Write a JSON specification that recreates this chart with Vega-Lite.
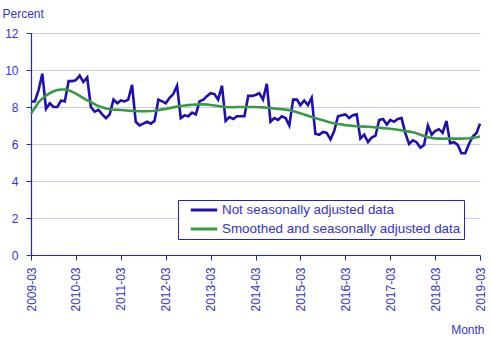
{
  "$schema": "https://vega.github.io/schema/vega-lite/v6.json",
  "width": 449,
  "height": 222,
  "autosize": {"type": "none"},
  "padding": {"left": 31, "top": 33, "right": 11, "bottom": 85},
  "background": "white",
  "config": {
    "view": {"stroke": null},
    "font": "Liberation Sans"
  },
  "data": {"values": [
    {"m":"2009-03","a":8.3,"b":7.65},{"m":"2009-04","a":8.3,"b":7.95},{"m":"2009-05","a":8.9,"b":8.25},{"m":"2009-06","a":9.8,"b":8.45},
    {"m":"2009-07","a":7.9,"b":8.62},{"m":"2009-08","a":8.2,"b":8.75},{"m":"2009-09","a":8.0,"b":8.85},{"m":"2009-10","a":8.0,"b":8.92},
    {"m":"2009-11","a":8.35,"b":8.95},{"m":"2009-12","a":8.3,"b":8.95},{"m":"2010-01","a":9.4,"b":8.9},{"m":"2010-02","a":9.4,"b":8.82},
    {"m":"2010-03","a":9.45,"b":8.72},{"m":"2010-04","a":9.7,"b":8.6},{"m":"2010-05","a":9.35,"b":8.48},{"m":"2010-06","a":9.6,"b":8.36},
    {"m":"2010-07","a":8.0,"b":8.26},{"m":"2010-08","a":7.75,"b":8.15},{"m":"2010-09","a":7.85,"b":8.05},{"m":"2010-10","a":7.6,"b":7.98},
    {"m":"2010-11","a":7.4,"b":7.92},{"m":"2010-12","a":7.6,"b":7.88},{"m":"2011-01","a":8.4,"b":7.86},{"m":"2011-02","a":8.2,"b":7.85},
    {"m":"2011-03","a":8.35,"b":7.84},{"m":"2011-04","a":8.3,"b":7.82},{"m":"2011-05","a":8.4,"b":7.8},{"m":"2011-06","a":9.2,"b":7.79},
    {"m":"2011-07","a":7.2,"b":7.78},{"m":"2011-08","a":7.0,"b":7.77},{"m":"2011-09","a":7.1,"b":7.77},{"m":"2011-10","a":7.2,"b":7.77},
    {"m":"2011-11","a":7.1,"b":7.78},{"m":"2011-12","a":7.25,"b":7.8},{"m":"2012-01","a":8.4,"b":7.83},{"m":"2012-02","a":8.3,"b":7.87},
    {"m":"2012-03","a":8.2,"b":7.9},{"m":"2012-04","a":8.5,"b":7.94},{"m":"2012-05","a":8.7,"b":7.98},{"m":"2012-06","a":9.15,"b":8.02},
    {"m":"2012-07","a":7.4,"b":8.05},{"m":"2012-08","a":7.55,"b":8.08},{"m":"2012-09","a":7.5,"b":8.1},{"m":"2012-10","a":7.7,"b":8.12},
    {"m":"2012-11","a":7.6,"b":8.13},{"m":"2012-12","a":8.3,"b":8.14},{"m":"2013-01","a":8.4,"b":8.14},{"m":"2013-02","a":8.6,"b":8.13},
    {"m":"2013-03","a":8.75,"b":8.11},{"m":"2013-04","a":8.7,"b":8.08},{"m":"2013-05","a":8.4,"b":8.05},{"m":"2013-06","a":9.15,"b":8.02},
    {"m":"2013-07","a":7.25,"b":8.0},{"m":"2013-08","a":7.45,"b":7.99},{"m":"2013-09","a":7.35,"b":7.99},{"m":"2013-10","a":7.5,"b":8.0},
    {"m":"2013-11","a":7.5,"b":8.0},{"m":"2013-12","a":7.5,"b":8.0},{"m":"2014-01","a":8.6,"b":8.0},{"m":"2014-02","a":8.6,"b":8.0},
    {"m":"2014-03","a":8.65,"b":8.0},{"m":"2014-04","a":8.75,"b":7.99},{"m":"2014-05","a":8.4,"b":7.98},{"m":"2014-06","a":9.25,"b":7.96},
    {"m":"2014-07","a":7.2,"b":7.94},{"m":"2014-08","a":7.4,"b":7.92},{"m":"2014-09","a":7.3,"b":7.9},{"m":"2014-10","a":7.5,"b":7.88},
    {"m":"2014-11","a":7.4,"b":7.86},{"m":"2014-12","a":7.0,"b":7.83},{"m":"2015-01","a":8.4,"b":7.78},{"m":"2015-02","a":8.4,"b":7.72},
    {"m":"2015-03","a":8.1,"b":7.66},{"m":"2015-04","a":8.35,"b":7.6},{"m":"2015-05","a":8.1,"b":7.53},{"m":"2015-06","a":8.5,"b":7.46},
    {"m":"2015-07","a":6.55,"b":7.4},{"m":"2015-08","a":6.5,"b":7.34},{"m":"2015-09","a":6.65,"b":7.28},{"m":"2015-10","a":6.6,"b":7.22},
    {"m":"2015-11","a":6.25,"b":7.16},{"m":"2015-12","a":6.7,"b":7.12},{"m":"2016-01","a":7.5,"b":7.08},{"m":"2016-02","a":7.55,"b":7.05},
    {"m":"2016-03","a":7.6,"b":7.02},{"m":"2016-04","a":7.4,"b":7.0},{"m":"2016-05","a":7.55,"b":6.98},{"m":"2016-06","a":7.6,"b":6.96},
    {"m":"2016-07","a":6.3,"b":6.95},{"m":"2016-08","a":6.5,"b":6.94},{"m":"2016-09","a":6.1,"b":6.93},{"m":"2016-10","a":6.35,"b":6.92},
    {"m":"2016-11","a":6.45,"b":6.9},{"m":"2016-12","a":7.3,"b":6.88},{"m":"2017-01","a":7.35,"b":6.86},{"m":"2017-02","a":7.05,"b":6.84},
    {"m":"2017-03","a":7.3,"b":6.82},{"m":"2017-04","a":7.2,"b":6.8},{"m":"2017-05","a":7.35,"b":6.77},{"m":"2017-06","a":7.4,"b":6.74},
    {"m":"2017-07","a":6.6,"b":6.7},{"m":"2017-08","a":6.0,"b":6.67},{"m":"2017-09","a":6.2,"b":6.64},{"m":"2017-10","a":6.1,"b":6.58},
    {"m":"2017-11","a":5.8,"b":6.5},{"m":"2017-12","a":5.95,"b":6.43},{"m":"2018-01","a":7.0,"b":6.37},{"m":"2018-02","a":6.5,"b":6.33},
    {"m":"2018-03","a":6.7,"b":6.3},{"m":"2018-04","a":6.8,"b":6.29},{"m":"2018-05","a":6.6,"b":6.29},{"m":"2018-06","a":7.25,"b":6.29},
    {"m":"2018-07","a":6.05,"b":6.29},{"m":"2018-08","a":6.1,"b":6.29},{"m":"2018-09","a":5.95,"b":6.29},{"m":"2018-10","a":5.5,"b":6.29},
    {"m":"2018-11","a":5.5,"b":6.3},{"m":"2018-12","a":6.0,"b":6.31},{"m":"2019-01","a":6.4,"b":6.33},{"m":"2019-02","a":6.6,"b":6.36},
    {"m":"2019-03","a":7.1,"b":6.4}
  ]},
  "transform": [{"fold": ["a", "b"], "as": ["series", "value"]}],
  "mark": {"type": "line", "strokeWidth": 2.6, "clip": false},
  "encoding": {
    "x": {
      "field": "m", "type": "temporal",
      "scale": {"type": "utc", "nice": false, "domain": [{"year": 2009, "month": 3, "date": 1, "utc": true}, {"year": 2019, "month": 3, "date": 1, "utc": true}]},
      "axis": {
        "values": [
          {"year": 2009, "month": 3, "date": 1, "utc": true}, {"year": 2010, "month": 3, "date": 1, "utc": true},
          {"year": 2011, "month": 3, "date": 1, "utc": true}, {"year": 2012, "month": 3, "date": 1, "utc": true},
          {"year": 2013, "month": 3, "date": 1, "utc": true}, {"year": 2014, "month": 3, "date": 1, "utc": true},
          {"year": 2015, "month": 3, "date": 1, "utc": true}, {"year": 2016, "month": 3, "date": 1, "utc": true},
          {"year": 2017, "month": 3, "date": 1, "utc": true}, {"year": 2018, "month": 3, "date": 1, "utc": true},
          {"year": 2019, "month": 3, "date": 1, "utc": true}
        ],
        "labelExpr": "utcFormat(datum.value, '%Y-%m')",
        "labelAngle": -90, "labelAlign": "right", "labelBaseline": "middle",
        "labelFontSize": 12, "labelColor": "#3333cc", "labelPadding": 7,
        "labelFlush": false, "labelOverlap": false,
        "domainColor": "#2222cc", "tickColor": "#2222cc", "tickSize": 5, "domainWidth": 1.2,
        "grid": false,
        "title": "Month", "titleColor": "#3333cc", "titleFontSize": 12, "titleFontWeight": "normal",
        "titleAnchor": "end", "titleAlign": "right", "titleBaseline": "alphabetic",
        "titleX": 453, "titleY": 78
      }
    },
    "y": {
      "field": "value", "type": "quantitative",
      "scale": {"domain": [0, 12], "nice": false, "zero": true},
      "axis": {
        "values": [0, 2, 4, 6, 8, 10, 12],
        "labelFontSize": 12, "labelColor": "#3333cc", "labelPadding": 8,
        "domainColor": "#2222cc", "tickColor": "#2222cc", "tickSize": 5, "domainWidth": 1.2,
        "grid": true, "gridColor": "#ccc8ee", "gridWidth": 1,
        "title": "Percent", "titleColor": "#3333cc", "titleFontSize": 12, "titleFontWeight": "normal",
        "titleAngle": 0, "titleAlign": "left", "titleBaseline": "alphabetic",
        "titleX": -29, "titleY": -16
      }
    },
    "color": {
      "field": "series", "type": "nominal",
      "scale": {"domain": ["a", "b"], "range": ["#1e0fb4", "#3a9a44"]},
      "legend": {
        "title": null,
        "orient": "none", "legendX": 147, "legendY": 167,
        "labelExpr": "datum.value == 'a' ? 'Not seasonally adjusted data' : 'Smoothed and seasonally adjusted data'",
        "labelFontSize": 13.4, "labelColor": "#3333cc", "labelOffset": 3, "labelLimit": 400,
        "symbolType": "stroke", "symbolStrokeWidth": 3, "symbolSize": 700,
        "clipHeight": 14,
        "strokeColor": "#2222cc", "fillColor": "white", "padding": 3, "rowPadding": 5,
        "symbolOffset": 8
      }
    }
  }
}
